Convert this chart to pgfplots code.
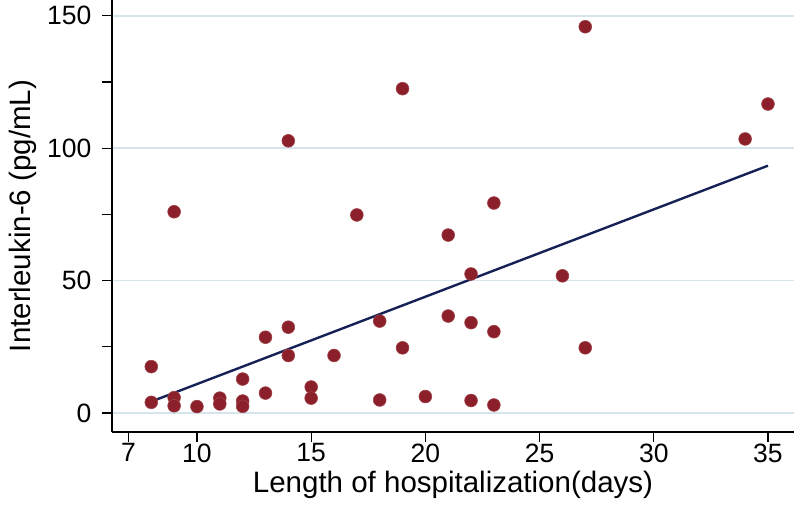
\documentclass[border=0pt]{standalone}
\usepackage{pgfplots}
\pgfplotsset{compat=1.18}
\usepackage{fontspec}
\setmainfont{Liberation Sans}
\definecolor{dotred}{RGB}{140,32,42}
\definecolor{navy}{RGB}{22,34,86}
\definecolor{gridc}{RGB}{214,229,236}
\begin{document}
\begin{tikzpicture}
\begin{axis}[
  scale only axis,
  width=682pt, height=432pt,
  xmin=6.28, xmax=36.14,
  ymin=-7.2, ymax=156,
  axis x line*=bottom, axis y line*=left,
  axis line style={line width=1.2pt, black},
  xtick={7,10,15,20,25,30,35},
  ytick={0,50,100,150},
  minor ytick={25,75,125},
  tick style={line width=1.2pt, black},
  major tick length=10pt, minor tick length=10pt,
  tick align=outside,
  ymajorgrids, major grid style={gridc, line width=1.8pt},
  /pgf/number format/assume math mode=true,
  tick label style={font=\fontsize{26.5}{30}\selectfont},
  xticklabel style={yshift=2pt},
  yticklabel style={xshift=-7pt},
  xlabel={Length of hospitalization(days)},
  ylabel={Interleukin-6 (pg/mL)},
  label style={font=\fontsize{29.5}{34}\selectfont},
  xlabel style={yshift=-2pt},
  ylabel style={yshift=4pt},
  clip=false,
]
\addplot[only marks, mark=*, mark size=6.4pt, mark options={fill=dotred, draw=dotred!85!white, line width=0.6pt}] coordinates {
(8,17.5) (8,4)
(9,76) (9,5.8) (9,2.7)
(10,2.4)
(11,5.6) (11,3.4)
(12,12.8) (12,4.5) (12,2.5)
(13,28.6) (13,7.5)
(14,102.8) (14,32.4) (14,21.7)
(15,9.8) (15,5.6)
(16,21.7)
(17,74.8)
(18,34.7) (18,4.9)
(19,122.5) (19,24.6)
(20,6.2)
(21,67.2) (21,36.6)
(22,52.5) (22,34.1) (22,4.7)
(23,79.3) (23,30.7) (23,3)
(26,51.8)
(27,145.9) (27,24.6)
(34,103.5)
(35,116.7)
};
\addplot[navy, line width=2.4pt] coordinates {(8,4.3) (35,93.4)};
\end{axis}
\pgfresetboundingbox
\useasboundingbox ([xshift=-112pt,yshift=-78pt]current axis.south west) rectangle (current axis.north east);
\end{tikzpicture}
\end{document}
